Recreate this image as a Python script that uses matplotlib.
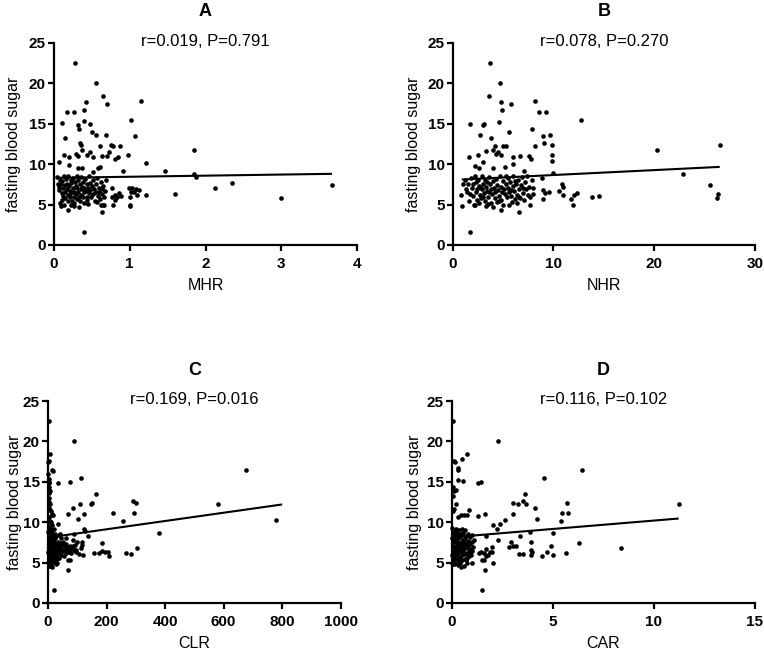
import matplotlib
matplotlib.use("Agg")
import matplotlib.pyplot as plt
import numpy as np

plt.rcParams['font.family'] = ['Liberation Sans', 'DejaVu Sans']

# ---------------- data ----------------
panel_letters = ["A", "B", "C", "D"]
x_names = ["MHR", "NHR", "CLR", "CAR"]
y_name = "fasting blood sugar"
stats_text = ["r=0.019, P=0.791", "r=0.078, P=0.270",
              "r=0.169, P=0.016", "r=0.116, P=0.102"]
x_limits = [4, 30, 1000, 15]
x_tick_steps = [1, 10, 200, 5]
y_ticks = [0, 5, 10, 15, 20, 25]

# regression lines: intercept, slope, x start, x end
fit_intercepts = [8.31, 8.05, 8.10, 8.13]
fit_slopes = [0.136, 0.061, 0.00512, 0.207]
fit_x_start = [0.05, 0.9, 0.0, 0.07]
fit_x_end = [3.67, 26.5, 800, 11.23]

mhr_points = [
    (0.28, 22.5), (0.55, 20.0), (0.65, 18.4), (0.70, 17.5), (1.15, 17.8), (0.42, 17.7), (0.17, 16.5),
    (0.26, 16.4), (0.39, 16.7), (0.39, 15.3), (0.11, 15.1), (0.32, 14.8), (0.33, 14.4), (0.48, 15.0),
    (0.50, 14.0), (0.55, 13.6), (0.68, 13.6), (1.01, 15.5), (1.07, 13.5), (0.15, 13.2), (0.34, 12.6),
    (0.35, 12.4), (0.61, 12.2), (0.75, 12.4), (0.78, 12.2), (0.87, 12.3), (0.29, 11.3), (0.32, 11.0),
    (0.37, 11.7), (0.44, 11.2), (0.47, 11.5), (0.52, 10.9), (0.64, 11.0), (0.70, 11.0), (0.73, 11.5),
    (0.80, 10.6), (0.84, 10.9), (0.98, 11.1), (0.13, 11.1), (0.20, 10.9), (0.07, 10.3), (0.20, 9.9),
    (0.37, 9.5), (0.32, 9.5), (0.52, 9.0), (0.58, 9.5), (0.61, 9.7), (0.91, 9.1), (1.22, 10.2),
    (1.47, 9.1), (1.85, 11.8), (1.85, 8.8), (1.88, 8.4), (1.60, 6.3), (2.13, 7.1), (2.35, 7.7),
    (3.00, 5.8), (3.67, 7.4), (0.39, 1.6), (0.18, 4.3), (0.64, 4.1), (0.09, 4.8), (0.33, 4.7),
    (1.00, 4.8), (1.00, 5.0), (1.00, 6.0), (1.02, 6.6), (1.05, 6.5), (1.08, 6.9), (1.10, 6.2),
    (1.12, 6.8), (1.21, 6.2), (0.99, 7.0), (1.03, 7.0), (0.76, 5.9), (0.78, 4.9), (0.80, 6.2),
    (0.83, 6.0), (0.86, 6.4), (0.88, 6.1), (0.77, 7.0), (0.80, 5.6), (0.65, 5.0), (0.66, 4.9),
    (0.04, 8.4), (0.05, 7.6), (0.06, 7.2), (0.07, 6.8), (0.08, 8.0), (0.09, 7.5), (0.10, 6.4),
    (0.10, 5.6), (0.11, 7.9), (0.12, 7.0), (0.12, 6.1), (0.13, 8.6), (0.14, 7.4), (0.14, 6.6),
    (0.15, 5.8), (0.16, 8.2), (0.17, 7.6), (0.17, 6.9), (0.18, 6.2), (0.18, 5.4), (0.19, 8.5),
    (0.20, 7.3), (0.21, 6.7), (0.21, 5.9), (0.22, 8.0), (0.23, 7.7), (0.23, 6.4), (0.24, 5.5),
    (0.25, 8.3), (0.25, 7.1), (0.26, 6.6), (0.27, 6.0), (0.27, 5.2), (0.28, 7.8), (0.29, 7.3),
    (0.29, 6.3), (0.30, 8.6), (0.30, 5.7), (0.31, 7.0), (0.32, 6.6), (0.32, 8.1), (0.33, 6.0),
    (0.34, 7.5), (0.34, 5.4), (0.35, 6.9), (0.36, 8.4), (0.36, 6.2), (0.37, 7.2), (0.38, 5.9),
    (0.38, 7.8), (0.39, 6.5), (0.40, 7.0), (0.40, 5.2), (0.41, 8.2), (0.42, 6.7), (0.43, 7.5),
    (0.43, 6.0), (0.44, 5.6), (0.45, 7.1), (0.46, 8.5), (0.46, 6.4), (0.47, 7.7), (0.48, 6.8),
    (0.49, 5.9), (0.50, 7.3), (0.51, 6.3), (0.52, 8.0), (0.53, 6.9), (0.54, 5.5), (0.55, 7.5),
    (0.56, 6.5), (0.57, 8.3), (0.58, 6.1), (0.59, 7.1), (0.60, 6.6), (0.61, 5.7), (0.62, 7.8),
    (0.63, 6.9), (0.64, 6.3), (0.65, 7.3), (0.66, 5.9), (0.67, 6.7), (0.68, 8.0), (0.08, 5.2),
    (0.13, 4.9), (0.22, 5.0), (0.26, 4.8), (0.45, 5.1), (0.57, 5.3), (0.62, 4.9),
]

nhr_points = [
    (3.7, 22.5), (4.66, 20.0), (3.57, 18.4), (4.8, 17.7), (5.75, 17.5), (8.2, 17.8), (8.6, 16.5),
    (9.3, 16.4), (4.9, 16.7), (4.6, 15.2), (1.72, 15.0), (2.97, 14.8), (3.07, 15.0), (5.55, 14.0),
    (12.75, 15.5), (2.7, 13.6), (3.77, 13.2), (7.86, 14.3), (9.0, 13.5), (9.7, 13.6), (9.1, 12.6),
    (8.2, 12.2), (9.9, 12.4), (4.2, 12.2), (5.0, 12.3), (5.3, 12.3), (4.5, 11.5), (4.0, 11.7),
    (3.3, 11.6), (2.5, 11.2), (1.6, 10.9), (3.0, 10.3), (4.3, 11.3), (4.8, 11.1), (5.98, 10.9),
    (6.7, 11.0), (7.6, 11.0), (7.8, 10.6), (9.9, 11.1), (9.9, 10.4), (10.0, 8.9), (6.0, 10.0),
    (5.2, 9.6), (4.0, 9.5), (2.2, 9.8), (2.6, 9.5), (7.1, 9.1), (8.9, 8.3), (20.25, 11.8),
    (22.9, 8.8), (25.5, 7.4), (26.5, 12.4), (26.3, 6.3), (26.2, 5.8), (13.78, 5.9), (14.47, 6.1),
    (11.7, 5.7), (12.0, 6.2), (12.3, 6.4), (11.9, 5.0), (10.8, 7.6), (10.9, 7.2), (10.5, 6.7),
    (10.9, 6.2), (9.6, 6.6), (9.2, 6.4), (9.0, 6.8), (9.0, 5.7), (8.0, 7.0), (7.5, 6.2),
    (7.7, 4.9), (6.6, 4.1), (4.8, 4.3), (1.7, 1.6), (0.9, 4.8), (0.8, 6.2), (1.0, 7.5),
    (1.2, 8.0), (1.5, 7.6), (1.4, 6.5), (1.6, 5.4), (1.8, 8.3), (1.9, 7.1), (2.0, 6.1),
    (2.1, 5.0), (2.2, 8.6), (2.3, 7.8), (2.3, 6.6), (2.4, 5.6), (2.5, 8.1), (2.6, 7.3),
    (2.7, 6.2), (2.8, 5.8), (2.9, 8.5), (2.9, 6.9), (3.0, 7.6), (3.1, 6.4), (3.2, 5.5),
    (3.2, 8.0), (3.3, 7.2), (3.4, 6.7), (3.5, 6.0), (3.5, 5.1), (3.6, 8.4), (3.7, 7.5),
    (3.8, 6.9), (3.8, 5.2), (3.9, 6.3), (4.0, 7.9), (4.0, 4.7), (4.1, 7.0), (4.2, 6.5),
    (4.2, 5.8), (4.3, 8.2), (4.4, 7.4), (4.5, 6.8), (4.6, 6.1), (4.6, 5.5), (4.7, 8.6),
    (4.8, 7.2), (4.9, 6.6), (5.0, 7.9), (5.0, 5.0), (5.1, 6.9), (5.2, 6.3), (5.3, 7.5),
    (5.4, 5.9), (5.5, 8.3), (5.5, 7.0), (5.6, 6.5), (5.7, 7.8), (5.8, 6.1), (5.9, 5.3),
    (6.0, 7.3), (6.0, 8.6), (6.1, 6.7), (6.2, 5.7), (6.3, 7.6), (6.4, 6.2), (6.5, 8.1),
    (6.6, 6.9), (6.7, 5.8), (6.8, 7.4), (6.9, 8.4), (7.0, 6.4), (7.1, 5.6), (7.2, 7.8),
    (7.3, 6.9), (7.4, 8.6), (7.6, 7.2), (7.7, 5.9), (7.9, 8.1), (8.0, 6.3), (1.3, 6.9),
    (1.7, 6.3), (2.0, 7.5), (2.4, 6.9), (2.6, 5.2), (2.8, 7.0), (3.0, 5.9), (3.4, 7.8),
    (3.6, 6.6), (4.4, 5.3), (4.8, 5.6), (5.3, 8.6), (5.8, 6.8), (6.2, 7.9), (6.6, 6.0),
    (7.0, 7.1), (2.2, 4.9), (3.3, 4.8), (5.6, 4.9), (6.4, 5.2),
]

clr_points = [
    (2, 22.5), (88, 20.0), (8, 18.4), (3, 17.6), (1, 17.4), (12, 16.5), (16, 16.3), (675, 16.5),
    (114, 15.5), (75, 15.0), (35, 14.8), (5, 14.0), (3, 13.6), (4, 14.3), (165, 13.5), (146, 12.3),
    (149, 12.4), (108, 12.2), (292, 12.6), (300, 12.4), (580, 12.2), (780, 10.3), (378, 8.7),
    (123, 11.0), (70, 11.0), (222, 11.1), (295, 11.1), (257, 10.2), (101, 10.4), (87, 11.8),
    (34, 9.8), (122, 9.1), (126, 8.9), (137, 8.3), (40, 8.6), (88, 8.5), (52, 7.5), (100, 7.6),
    (115, 7.2), (117, 7.5), (183, 7.4), (75, 7.0), (80, 6.9), (158, 6.2), (175, 6.2), (185, 6.4),
    (196, 6.3), (205, 6.3), (208, 5.8), (268, 6.2), (285, 6.1), (303, 6.8), (90, 6.6), (94, 6.3),
    (75, 5.3), (70, 5.3), (70, 4.1), (20, 1.6), (118, 6.0),
    (1, 16.0), (2, 15.3), (3, 15.0), (4, 14.9), (6, 13.9), (2, 13.0), (5, 12.5), (8, 12.3),
    (3, 11.8), (6, 11.5), (10, 11.4), (12, 11.0), (15, 10.9), (18, 10.9), (4, 10.6), (7, 10.2),
    (9, 10.0), (13, 9.6), (2, 9.5), (5, 9.2), (11, 9.1), (14, 8.9), (20, 8.4), (25, 8.0),
    (1, 8.8), (2, 8.2), (3, 7.6), (4, 7.0), (5, 6.5), (6, 5.9), (7, 5.3), (8, 4.8), (1, 6.3),
    (2, 5.5), (3, 4.6), (9, 8.5), (10, 7.8), (11, 7.2), (12, 6.7), (13, 6.1), (14, 5.6),
    (15, 5.0), (4, 8.9), (6, 7.9), (8, 7.3), (10, 6.4), (12, 5.8), (14, 4.9), (16, 8.1),
    (17, 7.5), (18, 6.9), (19, 6.3), (20, 5.7), (21, 5.2), (22, 7.8), (23, 7.1), (24, 6.6),
    (25, 6.0), (26, 5.4), (27, 8.3), (28, 7.3), (29, 6.8), (30, 6.3), (31, 5.8), (33, 7.6),
    (34, 7.0), (35, 6.5), (36, 5.6), (38, 6.9), (40, 7.4), (42, 6.2), (44, 5.9), (46, 6.7),
    (48, 7.2), (50, 6.4), (53, 5.8), (55, 7.0), (58, 6.6), (60, 6.2), (63, 7.3), (65, 6.8),
    (68, 6.3), (72, 6.9), (76, 6.6), (80, 6.2), (84, 7.0), (86, 7.8), (92, 7.2), (96, 6.5),
    (105, 6.1), (112, 6.8), (5, 7.5), (7, 6.8), (9, 6.1), (11, 5.4), (13, 8.0), (15, 7.3),
    (17, 6.5), (19, 5.6), (21, 7.0), (24, 8.5), (26, 6.3), (30, 5.5), (32, 4.9), (3, 5.1),
    (6, 4.6), (9, 5.7), (12, 4.5), (36, 8.4), (45, 8.0), (62, 8.1), (20, 9.1), (28, 4.8),
]

car_points = [
    (0.07, 22.5), (2.27, 20.0), (0.74, 18.4), (0.48, 17.8), (0.10, 17.6), (0.15, 17.5), (0.30, 16.7),
    (0.30, 16.4), (6.45, 16.5), (4.55, 15.5), (0.30, 15.2), (0.55, 15.1), (1.30, 14.8), (1.42, 15.0),
    (0.05, 14.3), (0.08, 13.8), (0.20, 14.0), (0.05, 13.3), (3.64, 13.5), (3.04, 12.4), (3.26, 12.2),
    (3.52, 12.6), (3.69, 12.3), (4.13, 11.8), (5.72, 12.4), (11.23, 12.2), (5.46, 11.1), (5.74, 11.1),
    (5.40, 10.2), (4.22, 10.4), (3.03, 11.0), (1.30, 10.8), (1.66, 11.0), (2.61, 10.3), (2.40, 9.8),
    (2.05, 9.6), (2.25, 9.1), (0.20, 12.3), (0.45, 10.9), (0.60, 10.9), (0.30, 10.6), (0.85, 11.5),
    (0.75, 10.9), (0.05, 11.4), (0.12, 11.6), (3.85, 8.8), (5.00, 8.7), (3.35, 8.3), (2.30, 7.8),
    (1.70, 8.3), (4.90, 7.0), (6.30, 7.4), (8.35, 6.8), (3.90, 7.5), (2.90, 7.6), (3.00, 7.0),
    (2.80, 6.9), (3.15, 7.0), (2.00, 6.9), (1.90, 6.3), (2.00, 6.3), (2.05, 5.0), (3.30, 6.1),
    (3.50, 6.1), (3.90, 6.0), (3.95, 6.3), (3.90, 6.5), (4.45, 5.8), (4.70, 6.3), (5.00, 6.0),
    (5.65, 6.2), (1.45, 6.3), (1.35, 6.2), (1.50, 5.3), (1.60, 5.3), (1.70, 5.8), (1.65, 4.1),
    (1.50, 1.6), (1.70, 6.7), (1.80, 6.0), (1.60, 6.2), (1.00, 8.4), (1.00, 4.9),
    (0.02, 9.3), (0.05, 8.7), (0.08, 8.1), (0.10, 7.5), (0.03, 7.0), (0.06, 6.4), (0.09, 5.8),
    (0.04, 5.2), (0.12, 4.8), (0.14, 8.9), (0.16, 8.3), (0.18, 7.7), (0.20, 7.1), (0.22, 6.6),
    (0.24, 6.0), (0.26, 5.4), (0.15, 6.8), (0.13, 6.2), (0.11, 5.5), (0.28, 8.6), (0.30, 8.0),
    (0.32, 7.4), (0.34, 6.9), (0.36, 6.3), (0.38, 5.7), (0.40, 5.0), (0.42, 8.2), (0.44, 7.6),
    (0.46, 7.0), (0.48, 6.5), (0.50, 5.9), (0.52, 5.3), (0.54, 8.7), (0.56, 7.8), (0.58, 7.2),
    (0.60, 6.7), (0.62, 6.1), (0.64, 5.5), (0.66, 8.0), (0.68, 7.4), (0.70, 6.9), (0.72, 6.2),
    (0.74, 5.6), (0.76, 4.9), (0.78, 7.7), (0.80, 7.1), (0.82, 6.5), (0.85, 5.8), (0.88, 8.2),
    (0.90, 7.3), (0.92, 6.7), (0.95, 6.0), (0.98, 7.6), (1.05, 6.9), (1.10, 7.8), (0.07, 7.8),
    (0.17, 5.0), (0.25, 7.9), (0.33, 5.2), (0.41, 6.6), (0.47, 8.5), (0.55, 6.3), (0.63, 7.0),
    (0.71, 5.3), (0.79, 8.5), (0.87, 6.2), (0.19, 9.2), (0.35, 9.0), (0.58, 4.6), (0.45, 4.5),
    (0.29, 4.7), (0.01, 6.0), (0.02, 8.0), (0.01, 5.0), (0.03, 4.8), (0.21, 8.8), (0.37, 7.2),
    (0.53, 7.6), (0.69, 8.3), (0.83, 7.5), (1.00, 6.4), (0.50, 9.1), (0.66, 9.0),
]

all_points = [mhr_points, nhr_points, clr_points, car_points]

# ---------------- layout ----------------
W, H = 764, 655
fig = plt.figure(figsize=(W / 100, H / 100), dpi=100)

# axes boxes in pixel coords: left, right, top, bottom
boxes = [(54, 357, 43, 245), (452.7, 755, 43, 245),
         (48, 340.7, 401, 603), (452, 754.7, 401, 603)]
# centre of y-label in px left of axis
ylabel_offsets = [-41, -39, -33, -38]

for i in range(4):
    l, r, t, b = boxes[i]
    ax = fig.add_axes([l / W, (H - b) / H, (r - l) / W, (b - t) / H])
    pts = np.array(all_points[i])
    ax.scatter(pts[:, 0], pts[:, 1], s=11, c='black', linewidths=0,
               clip_on=False, zorder=3)
    xs = np.array([fit_x_start[i], fit_x_end[i]])
    ax.plot(xs, fit_intercepts[i] + fit_slopes[i] * xs, color='black',
            lw=1.5, zorder=4, solid_capstyle='butt')

    ax.set_xlim(0, x_limits[i])
    ax.set_ylim(0, 25)
    ax.set_xticks(np.arange(0, x_limits[i] + 1e-9, x_tick_steps[i]))
    ax.set_yticks(y_ticks)
    for s in ['top', 'right']:
        ax.spines[s].set_visible(False)
    for s in ['left', 'bottom']:
        ax.spines[s].set_linewidth(1.6)
    ax.tick_params(direction='out', length=4.3, width=1.6, labelsize=11)
    ax.tick_params(axis='x', pad=4)
    ax.tick_params(axis='y', pad=1.5)
    for lab in ax.get_xticklabels() + ax.get_yticklabels():
        lab.set_fontweight('bold')

    ax.set_xlabel(x_names[i], fontsize=11.5)
    ax.set_ylabel(y_name, fontsize=11.5)
    ax.xaxis.label.set_verticalalignment('center')
    ax.yaxis.label.set_verticalalignment('center')
    ah = b - t
    aw = r - l
    ax.xaxis.set_label_coords(0.5, -40 / ah)
    ax.yaxis.set_label_coords(ylabel_offsets[i] / aw, 0.5)

    ax.text(0.5, 1 + 31 / ah, panel_letters[i], transform=ax.transAxes,
            ha='center', va='center', fontsize=13, fontweight='bold')
    ax.text(0.5, 1 + 1.5 / ah, stats_text[i], transform=ax.transAxes,
            ha='center', va='center', fontsize=12)

fig.savefig("out.png", dpi=100)
